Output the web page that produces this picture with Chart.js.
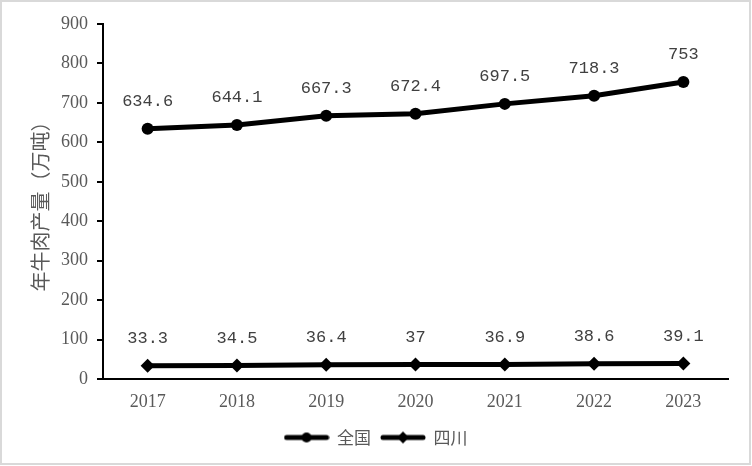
<!DOCTYPE html>
<html>
<head>
<meta charset="utf-8">
<script src="https://cdn.jsdelivr.net/npm/chart.js@4"></script>
<style>
  body { margin: 0; background: #fff; }
  #wrap { width: 752px; height: 466px; }
</style>
</head>
<body>
<div id="wrap"><canvas id="myChart" width="752" height="466"></canvas></div>
<script>
// data
const years = ["2017", "2018", "2019", "2020", "2021", "2022", "2023"];
const national = [634.6, 644.1, 667.3, 672.4, 697.5, 718.3, 753];
const sichuan = [33.3, 34.5, 36.4, 37, 36.9, 38.6, 39.1];
const seriesNames = ["全国", "四川"];
const yTicks = [0, 100, 200, 300, 400, 500, 600, 700, 800, 900];

const textGray = "#595959";

// legend symbol: line with a marker in the middle
function legendIcon(style) {
  const c = document.createElement("canvas");
  c.width = 46;
  c.height = 16;
  const ctx = c.getContext("2d");
  ctx.strokeStyle = "#000";
  ctx.lineWidth = 5;
  ctx.lineCap = "round";
  ctx.beginPath();
  ctx.moveTo(3, 8);
  ctx.lineTo(43, 8);
  ctx.stroke();
  ctx.fillStyle = "#000";
  ctx.beginPath();
  if (style === "circle") {
    ctx.arc(23, 8, 5, 0, Math.PI * 2);
  } else {
    ctx.moveTo(23, 2);
    ctx.lineTo(29, 8);
    ctx.lineTo(23, 14);
    ctx.lineTo(17, 8);
    ctx.closePath();
  }
  ctx.fill();
  return c;
}

// value labels above every point
const valueLabels = {
  id: "valueLabels",
  afterDatasetsDraw(chart) {
    const ctx = chart.ctx;
    ctx.save();
    ctx.font = '17px "Liberation Mono", monospace';
    ctx.fillStyle = "#404040";
    ctx.textAlign = "center";
    ctx.textBaseline = "middle";
    chart.data.datasets.forEach((ds, i) => {
      chart.getDatasetMeta(i).data.forEach((pt, j) => {
        ctx.fillText(String(ds.data[j]), pt.x, pt.y - 27);
      });
    });
    ctx.restore();
  }
};

// white page with a thin gray frame
const frame = {
  id: "frame",
  beforeDraw(chart) {
    const ctx = chart.ctx;
    ctx.save();
    ctx.fillStyle = "#fff";
    ctx.fillRect(0, 0, chart.width, chart.height);
    ctx.restore();
  },
  afterDraw(chart) {
    const ctx = chart.ctx;
    ctx.save();
    ctx.strokeStyle = "#d9d9d9";
    ctx.lineWidth = 2;
    ctx.strokeRect(1, 1, chart.width - 3, chart.height - 3);
    ctx.restore();
  }
};

const icons = [legendIcon("circle"), legendIcon("diamond")];

new Chart(document.getElementById("myChart").getContext("2d"), {
  type: "line",
  data: {
    labels: years,
    datasets: [
      {
        label: seriesNames[0],
        data: national,
        borderColor: "#000",
        backgroundColor: "#000",
        borderWidth: 5,
        pointStyle: "circle",
        pointRadius: 6,
        pointBorderWidth: 0,
        tension: 0
      },
      {
        label: seriesNames[1],
        data: sichuan,
        borderColor: "#000",
        backgroundColor: "#000",
        borderWidth: 5,
        pointStyle: "rectRot",
        pointRadius: 7,
        pointBorderWidth: 0,
        tension: 0
      }
    ]
  },
  options: {
    responsive: false,
    animation: false,
    layout: { padding: { left: 24, right: 24, top: 24, bottom: 10 } },
    plugins: {
      tooltip: { enabled: false },
      legend: {
        position: "bottom",
        labels: {
          usePointStyle: true,
          pointStyleWidth: 44,
          boxHeight: 16,
          padding: 10,
          color: textGray,
          font: { family: '"Noto Sans CJK SC", sans-serif', size: 17 },
          generateLabels(chart) {
            return chart.data.datasets.map((ds, i) => ({
              text: ds.label,
              pointStyle: icons[i],
              fillStyle: "#000",
              strokeStyle: "#000",
              lineWidth: 0,
              fontColor: textGray,
              datasetIndex: i
            }));
          }
        }
      }
    },
    scales: {
      x: {
        offset: true,
        grid: { display: false, drawTicks: false },
        border: { display: true, color: "#000", width: 2 },
        ticks: {
          padding: 12,
          color: textGray,
          font: { family: '"Liberation Serif", serif', size: 18 }
        },
        afterFit(s) { s.height = 40; }
      },
      y: {
        min: 0,
        max: 900,
        afterBuildTicks(s) { s.ticks = yTicks.map(v => ({ value: v })); },
        grid: { drawOnChartArea: false, drawTicks: true, tickLength: 6, color: "#000", lineWidth: 2 },
        border: { display: true, color: "#000", width: 2 },
        ticks: {
          padding: 9,
          color: textGray,
          font: { family: '"Liberation Serif", serif', size: 18 }
        },
        title: {
          display: true,
          text: "年牛肉产量（万吨）",
          color: textGray,
          font: { family: '"Noto Sans CJK SC", sans-serif', size: 20 },
          padding: { top: 4, bottom: 4 }
        },
        afterFit(s) { s.width = 79; }
      }
    }
  },
  plugins: [frame, valueLabels]
});
</script>
</body>
</html>
